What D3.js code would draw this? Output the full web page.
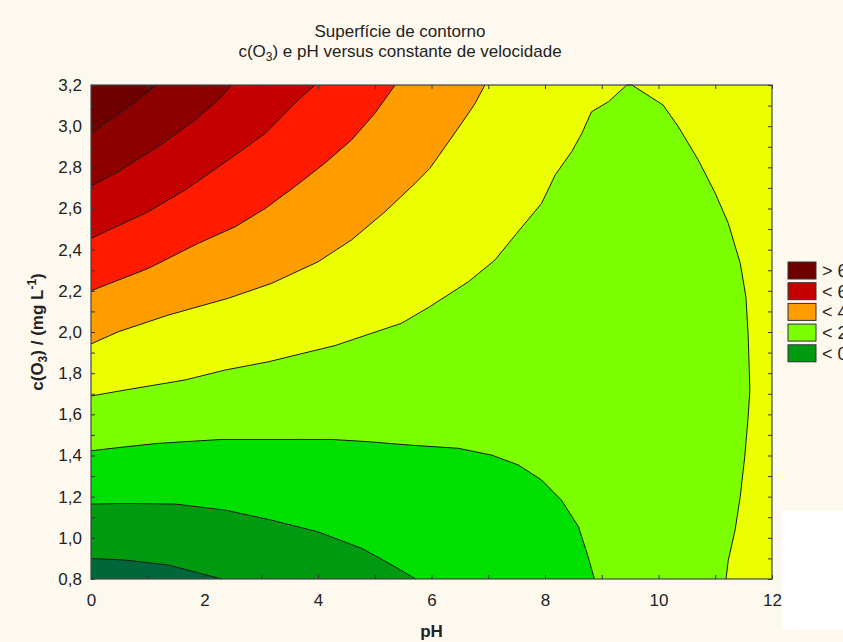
<!DOCTYPE html>
<html>
<head>
<meta charset="utf-8">
<script src="https://cdn.jsdelivr.net/npm/d3@7"></script>
<style>
  body { margin: 0; background: #fef9ef; }
  svg { display: block; font-family: "Liberation Sans", Arial, sans-serif; }
</style>
</head>
<body>
<div id="chart"></div>
<script>
////////////////////////////////////////////////////////////////////////
// Data

// axis ticks and labels (decimal comma, as in the original)
const xMinor = [0, 1, 2, 3, 4, 5, 6, 7, 8, 9, 10, 11, 12];
const xMajor = [0, 2, 4, 6, 8, 10, 12];
const xLabels = ["0", "2", "4", "6", "8", "10", "12"];
const yMinor = [0.8, 0.9, 1.0, 1.1, 1.2, 1.3, 1.4, 1.5, 1.6, 1.7, 1.8, 1.9, 2.0,
  2.1, 2.2, 2.3, 2.4, 2.5, 2.6, 2.7, 2.8, 2.9, 3.0, 3.1, 3.2];
const yMajor = [0.8, 1.0, 1.2, 1.4, 1.6, 1.8, 2.0, 2.2, 2.4, 2.6, 2.8, 3.0, 3.2];
const yLabels = ["0,8", "1,0", "1,2", "1,4", "1,6", "1,8", "2,0", "2,2", "2,4", "2,6", "2,8", "3,0", "3,2"];

// contour band colours, lowest band (bottom left) to highest (top left)
const bandColors = ["#00673a", "#009a10", "#00e000", "#7cff00", "#ebff00",
  "#ff9c00", "#ff1a00", "#c40000", "#8c0000", "#6f0000"];

// legend (cut by the right edge in the original)
const legendLabels = ["> 6", "< 6", "< 4", "< 2", "< 0"];
const legendColors = ["#6f0000", "#c40000", "#ff9c00", "#7cff00", "#009a10"];

// contour lines as [pH, c(O3)] points
// lower family: closed through the corner (0, 0.8)
const isoYellowLight = [[0, 1.689], [0.6, 1.718], [1.66, 1.767], [2.36, 1.815], [3.12, 1.855],
  [4.3, 1.934], [5.12, 2.01], [5.47, 2.042], [5.97, 2.123], [6.65, 2.244], [7.12, 2.35],
  [7.5, 2.479], [7.94, 2.625], [8.18, 2.763], [8.47, 2.876], [8.65, 2.965], [8.82, 3.07],
  [9.12, 3.119], [9.44, 3.2], [9.53, 3.2], [10.08, 3.103], [10.35, 2.997], [10.7, 2.836],
  [11.0, 2.674], [11.23, 2.528], [11.44, 2.334], [11.54, 2.171], [11.58, 1.985],
  [11.61, 1.718], [11.58, 1.588], [11.52, 1.394], [11.44, 1.2], [11.35, 1.038],
  [11.23, 0.892], [11.19, 0.8]];
const isoLightGreen = [[0, 1.423], [0.6, 1.442], [1.19, 1.459], [2.3, 1.478], [3.71, 1.478],
  [4.24, 1.478], [4.89, 1.467], [5.59, 1.451], [6.47, 1.435], [7.06, 1.402], [7.53, 1.354],
  [7.94, 1.281], [8.29, 1.183], [8.59, 1.054], [8.76, 0.908], [8.87, 0.8]];
const isoGreen = [[0, 1.164], [0.6, 1.167], [1.48, 1.164], [2.36, 1.135], [3.18, 1.086],
  [4.0, 1.029], [4.77, 0.949], [5.36, 0.859], [5.72, 0.8]];
const isoDarkGreen = [[0, 0.9], [0.6, 0.892], [1.36, 0.868], [1.89, 0.83], [2.3, 0.8]];

// upper family: closed through the corner (0, 3.2)
const isoOrange = [[0, 1.942], [0.48, 2.001], [1.36, 2.082], [2.42, 2.164], [3.18, 2.236],
  [4.0, 2.341], [4.59, 2.447], [5.18, 2.584], [5.71, 2.722], [5.97, 2.795], [6.24, 2.9],
  [6.53, 3.014], [6.77, 3.111], [6.94, 3.2]];
const isoRed = [[0, 2.2], [1.01, 2.309], [1.89, 2.431], [2.54, 2.511], [3.07, 2.6],
  [3.59, 2.706], [4.12, 2.82], [4.59, 2.933], [5.0, 3.062], [5.36, 3.2]];
const isoCrimson = [[0, 2.455], [0.98, 2.58], [1.66, 2.69], [2.42, 2.836], [3.07, 2.965],
  [3.65, 3.127], [3.95, 3.2]];
const isoMaroon = [[0, 2.709], [0.48, 2.779], [1.22, 2.908], [1.83, 3.03], [2.24, 3.127],
  [2.48, 3.2]];
const isoDarkMaroon = [[0, 2.965], [0.54, 3.07], [0.89, 3.143], [1.16, 3.2]];

////////////////////////////////////////////////////////////////////////
// Layout

const width = 843, height = 642;
const svg = d3.select("#chart")
  .append("svg")
  .attr("width", width)
  .attr("height", height);

svg.append("rect")
  .attr("width", width)
  .attr("height", height)
  .attr("fill", "#fef9ef");

// white patch at the lower right of the original picture
svg.append("rect")
  .attr("x", 782).attr("y", 511)
  .attr("width", 61).attr("height", 118)
  .attr("fill", "#ffffff");

const xScale = d3.scaleLinear().domain([0, 12]).range([91, 772]);
const yScale = d3.scaleLinear().domain([0.8, 3.2]).range([579, 85]);

// filled bands, painted from the outside in
const layers = [
  { pts: isoOrange, corner: [0, 3.2], color: bandColors[5] },
  { pts: isoRed, corner: [0, 3.2], color: bandColors[6] },
  { pts: isoCrimson, corner: [0, 3.2], color: bandColors[7] },
  { pts: isoMaroon, corner: [0, 3.2], color: bandColors[8] },
  { pts: isoDarkMaroon, corner: [0, 3.2], color: bandColors[9] },
  { pts: isoYellowLight, corner: [0, 0.8], color: bandColors[3] },
  { pts: isoLightGreen, corner: [0, 0.8], color: bandColors[2] },
  { pts: isoGreen, corner: [0, 0.8], color: bandColors[1] },
  { pts: isoDarkGreen, corner: [0, 0.8], color: bandColors[0] }
];

const line = d3.line()
  .x(d => xScale(d[0]))
  .y(d => yScale(d[1]));

const plot = svg.append("g");

plot.append("rect")
  .attr("x", xScale(0)).attr("y", yScale(3.2))
  .attr("width", xScale(12) - xScale(0))
  .attr("height", yScale(0.8) - yScale(3.2))
  .attr("fill", bandColors[4]);

plot.selectAll("path.band")
  .data(layers)
  .join("path")
  .attr("class", "band")
  .attr("d", d => line(d.pts.concat([d.corner])) + "Z")
  .attr("fill", d => d.color);

plot.selectAll("path.iso")
  .data(layers)
  .join("path")
  .attr("class", "iso")
  .attr("d", d => line(d.pts))
  .attr("fill", "none")
  .attr("stroke", "#1a1a1a")
  .attr("stroke-width", 1);

////////////////////////////////////////////////////////////////////////
// Axes: ticks inside on all four sides

function xFmt(v) {
  const i = xMajor.indexOf(v);
  return i >= 0 ? xLabels[i] : "";
}
function yFmt(v) {
  const i = yMajor.findIndex(m => Math.abs(m - v) < 1e-6);
  return i >= 0 ? yLabels[i] : "";
}

const axisStyle = g => {
  g.select(".domain").remove();
  g.selectAll(".tick line").attr("stroke", "#333");
  g.selectAll(".tick text")
    .attr("fill", "#222")
    .style("font-size", "17px")
    .style("font-family", "'Liberation Sans', Arial, sans-serif");
};

svg.append("g")
  .attr("transform", `translate(0,${yScale(0.8)})`)
  .call(d3.axisBottom(xScale).tickValues(xMinor).tickSize(-4).tickPadding(15).tickFormat(xFmt))
  .call(axisStyle);

svg.append("g")
  .attr("transform", `translate(0,${yScale(3.2)})`)
  .call(d3.axisTop(xScale).tickValues(xMinor).tickSize(-4).tickFormat(""))
  .call(axisStyle);

svg.append("g")
  .attr("transform", `translate(${xScale(0)},0)`)
  .call(d3.axisLeft(yScale).tickValues(yMinor).tickSize(-4).tickPadding(9).tickFormat(yFmt))
  .call(axisStyle);

svg.append("g")
  .attr("transform", `translate(${xScale(12)},0)`)
  .call(d3.axisRight(yScale).tickValues(yMinor).tickSize(-4).tickFormat(""))
  .call(axisStyle);

// frame
svg.append("rect")
  .attr("x", xScale(0)).attr("y", yScale(3.2))
  .attr("width", xScale(12) - xScale(0))
  .attr("height", yScale(0.8) - yScale(3.2))
  .attr("fill", "none")
  .attr("stroke", "#444")
  .attr("stroke-width", 1.2);

////////////////////////////////////////////////////////////////////////
// Titles

svg.append("text")
  .attr("x", 400).attr("y", 37)
  .attr("text-anchor", "middle")
  .style("font-size", "17px").attr("fill", "#222")
  .text("Superfície de contorno");

const t2 = svg.append("text")
  .attr("x", 400).attr("y", 57)
  .attr("text-anchor", "middle")
  .style("font-size", "17px").attr("fill", "#222");
t2.append("tspan").text("c(O");
t2.append("tspan").attr("dy", 4).style("font-size", "12px").text("3");
t2.append("tspan").attr("dy", -4).text(") e pH versus constante de velocidade");

svg.append("text")
  .attr("x", xScale(6)).attr("y", 637)
  .attr("text-anchor", "middle")
  .style("font-size", "17px").style("font-weight", "bold").attr("fill", "#222")
  .text("pH");

const yt = svg.append("text")
  .attr("transform", `translate(43,${(yScale(0.8) + yScale(3.2)) / 2}) rotate(-90)`)
  .attr("text-anchor", "middle")
  .style("font-size", "17px").style("font-weight", "bold").attr("fill", "#222");
yt.append("tspan").text("c(O");
yt.append("tspan").attr("dy", 4).style("font-size", "12px").text("3");
yt.append("tspan").attr("dy", -4).text(") / (mg L");
yt.append("tspan").attr("dy", -7).style("font-size", "12px").text("-1");
yt.append("tspan").attr("dy", 7).text(")");

////////////////////////////////////////////////////////////////////////
// Legend

const legend = svg.append("g")
  .selectAll("g")
  .data(legendLabels)
  .join("g")
  .attr("transform", (d, i) => `translate(788,${262 + i * 20.7})`);

legend.append("rect")
  .attr("width", 28).attr("height", 17)
  .attr("fill", (d, i) => legendColors[i])
  .attr("stroke", "#333").attr("stroke-width", 1);

legend.append("text")
  .attr("x", 34).attr("y", 15)
  .style("font-size", "18px").attr("fill", "#222")
  .text(d => d);
</script>
</body>
</html>
